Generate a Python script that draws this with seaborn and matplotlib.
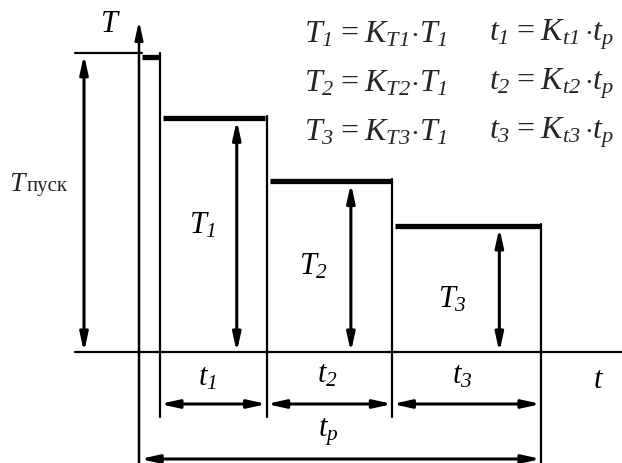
import numpy as np
import pandas as pd
import matplotlib
matplotlib.use('Agg')
import matplotlib.pyplot as plt
import seaborn as sns

# load diagram data (torque in units of T1, time in units of t_p)
t_start = 0.055
durations = [0.28, 0.33, 0.39]
T_start = 1.27
T_levels = [1.0, 0.73, 0.54]
step_names = ['1', '2', '3']
arrow_frac = [0.72, 0.67, 0.72]

sns.set_theme(style='white')
plt.rcParams['font.family'] = ['Liberation Serif', 'DejaVu Serif']
plt.rcParams['mathtext.fontset'] = 'custom'
plt.rcParams['mathtext.it'] = 'Liberation Serif:italic'
plt.rcParams['mathtext.rm'] = 'Liberation Serif:italic'
plt.rcParams['mathtext.bf'] = 'Liberation Serif:bold'
plt.rcParams['mathtext.default'] = 'it'

W, H = 622, 464
X0, SX = 139, 381     # pixel of t=0, pixels per t_p
Y0, SY = 353, 234     # pixel of T=0, pixels per T1


def px_t(x):
    return (x - X0) / SX


def px_T(y):
    return (Y0 - y) / SY


fig = plt.figure(figsize=(W / 100, H / 100), dpi=100)
ax = fig.add_axes([0, 0, 1, 1])

bounds = np.concatenate([[t_start], t_start + np.cumsum(durations)])

# thick step profile
seg_rows = [dict(t=0.008, T=T_start - 0.008, seg=0), dict(t=t_start, T=T_start - 0.008, seg=0)]
for i, lvl in enumerate(T_levels):
    seg_rows.append(dict(t=bounds[i] + 0.008, T=lvl, seg=i + 1))
    seg_rows.append(dict(t=bounds[i + 1] - 0.003, T=lvl, seg=i + 1))
df = pd.DataFrame(seg_rows)
sns.lineplot(data=df, x='t', y='T', units='seg', estimator=None, color='black',
             lw=3.8, solid_capstyle='butt', legend=False, ax=ax)

y_bot = px_T(H)
x_left = px_t(75)
x_dimT = px_t(84)
y_dim_t = px_T(405)
y_dim_tp = px_T(460)
y_ext = px_T(418)
thin = dict(color='black', lw=1.6)

# horizontal axis and T_start leader line
ax.plot([x_left, px_t(W)], [0, 0], **thin)
ax.plot([x_left, 0.008], [T_start + 0.006, T_start + 0.006], **thin)

# vertical boundary lines
ax.plot([t_start, t_start], [T_start + 0.006, y_ext], **thin)
ax.plot([bounds[1], bounds[1]], [T_levels[0] + 0.008, y_ext], **thin)
ax.plot([bounds[2], bounds[2]], [T_levels[1] + 0.008, y_ext], **thin)
ax.plot([bounds[3], bounds[3]], [T_levels[2] + 0.008, y_bot], **thin)


def arrow(p0, p1, style='<|-|>', lw=2.2):
    ax.annotate('', xy=p1, xytext=p0,
                arrowprops=dict(arrowstyle=f'{style},head_length=0.9,head_width=0.2',
                                mutation_scale=12, lw=lw, color='black',
                                shrinkA=0, shrinkB=0))


# T axis
arrow((0, y_bot), (0, px_T(22)), style='-|>', lw=1.8)

# torque dimension arrows
arrow((x_dimT, T_start), (x_dimT, 0))
for i, lvl in enumerate(T_levels):
    xa = bounds[i] + arrow_frac[i] * durations[i]
    arrow((xa, lvl - 0.01), (xa, 0))

# time dimension arrows
for i in range(3):
    arrow((bounds[i], y_dim_t), (bounds[i + 1], y_dim_t))
arrow((0.003, y_dim_tp), (bounds[3], y_dim_tp))

fs = 22
it = dict(fontsize=fs, ha='center', va='center', color='black')

ax.text(px_t(110), px_T(25), '$T$', **it)
ax.text(px_t(599), px_T(381), '$t$', **it)
ax.text(px_t(9), px_T(191), '$T$', fontsize=20, ha='left', va='baseline')
ax.text(px_t(27), px_T(191), 'пуск', fontsize=15, ha='left', va='baseline')

label_px = [(203, 226), (314, 267), (452, 300)]
tlabel_px = [(207, 378), (327, 375), (462, 376)]
for i, lvl in enumerate(T_levels):
    ax.text(px_t(label_px[i][0]), px_T(label_px[i][1]), f'$T_{step_names[i]}$', **it)
    ax.text(px_t(tlabel_px[i][0]), px_T(tlabel_px[i][1]), f'$t_{step_names[i]}$', **it)
ax.text(px_t(328), px_T(432), '$t_p$', **it)

# formulas
for i, n in enumerate(step_names):
    yy = 1 - (35 + 49 * i) / H
    ax.text(304 / W, yy, rf'$T_{n}{{=}}K_{{T{n}}}{{\cdot}}T_1$',
            transform=ax.transAxes, fontsize=23, ha='left', va='center')
    ax.text(489 / W, yy, rf'$t_{n}{{=}}K_{{t{n}}}\,{{\cdot}}t_p$',
            transform=ax.transAxes, fontsize=23, ha='left', va='center')

ax.set_xlim(px_t(0), px_t(W))
ax.set_ylim(px_T(H), px_T(0))
ax.axis('off')

fig.savefig('out.png', dpi=100)
